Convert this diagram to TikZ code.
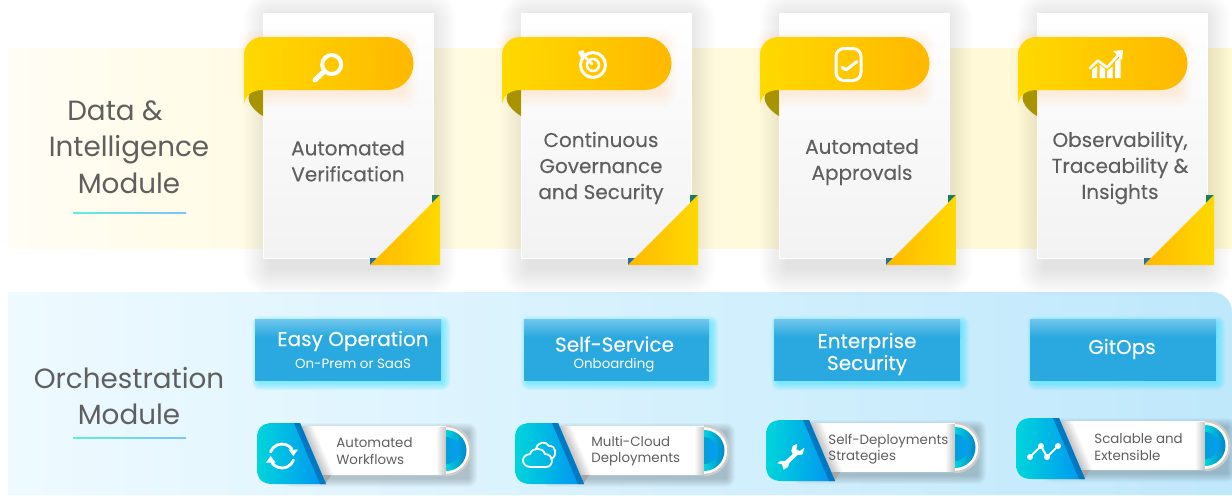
\documentclass[tikz,border=0pt]{standalone}
\usepackage{fontspec}
\setmainfont{Poppins}
\newdimen\px \px=0.5pt
\definecolor{txt}{HTML}{5F5F5F}
\definecolor{ylA}{HTML}{FFD900}
\definecolor{ylB}{HTML}{FFC800}
\definecolor{ylC}{HTML}{FFB800}
\definecolor{olive}{HTML}{A89400}
\definecolor{tealc}{HTML}{1E7A62}
\definecolor{bluec}{HTML}{2A6F9A}
\definecolor{boxb}{HTML}{29A9E0}
\definecolor{boxl}{HTML}{70C6EC}
\definecolor{glow}{HTML}{38E4FF}
\definecolor{icA}{HTML}{00D5DB}
\definecolor{icB}{HTML}{0093F2}
\definecolor{icD}{HTML}{0078C2}
\definecolor{capA}{HTML}{00A0D8}
\definecolor{capB}{HTML}{0A9CF8}
\definecolor{capC}{HTML}{0086D0}
\definecolor{panelA}{HTML}{EEFAFF}
\definecolor{panelB}{HTML}{DDF3FD}
\definecolor{panelC}{HTML}{BFE8FB}
\definecolor{lineA}{HTML}{5FF0D8}
\definecolor{lineB}{HTML}{7FC0FF}
\tikzset{
  sidelabel/.style={text=txt,align=center,inner sep=0pt,font=\fontsize{13.9}{18.2}\selectfont},
  cardlabel/.style={text=txt,align=center,inner sep=0pt,font=\fontsize{10}{13}\selectfont\addfontfeature{FakeBold=0.2}},
  boxlabel/.style={text=white,align=center,inner sep=0pt,font=\fontsize{10}{11}\selectfont\addfontfeature{FakeBold=0.15}},
  boxsub/.style={text=white,align=center,inner sep=0pt,font=\fontsize{6.7}{9}\selectfont},
  pilllabel/.style={text=txt,align=left,anchor=west,inner sep=0pt,font=\fontsize{6.7}{8.1}\selectfont},
  icon/.style={draw=white,line cap=round,line join=round},
}
\newcommand\softbox[7]{%
  \foreach \i in {1,...,#5}{\fill[#6,opacity=#7,rounded corners=\i\px] ({#1-\i},{#2-\i}) rectangle ({#3+\i},{#4+\i});}}
\newcommand\card[2]{% name, x
  \softbox{#2+8}{19}{#2+166}{268}{28}{black}{0.0042}
  \shade[top color=white,bottom color=black!5] (#2,13) rectangle (#2+170,258);
  \draw[white,line width=1\px] (#2,13) rectangle (#2+170,258);
  \coordinate (#1) at (#2,13);
  \fill[tealc] (#2+169,195) -- (#2+177,195) -- (#2+169,203) -- cycle;
  \fill[bluec] (#2+107,258) -- (#2+114,258) -- (#2+107,265) -- cycle;
  \shade[left color=ylC,right color=ylA] (#2+107,265) -- (#2+177,195) -- (#2+177,265) -- cycle;
  \softbox{#2-10}{45}{#2+140}{92}{16}{ylC}{0.009}
  \fill[olive] (#2,90) -- (#2-8,90) .. controls (#2-20,94) and (#2-14,108) .. (#2,116) -- cycle;
  \shade[left color=ylA,middle color=ylB,right color=ylC]
    (#2-19,55) arc[start angle=180,end angle=270,radius=18] -- (#2+124,37)
    arc[start angle=-90,end angle=90,radius=26.5] -- (#2,90)
    .. controls (#2-10,90) and (#2-17,94) .. (#2-19,104) -- cycle;
}
\newcommand\bluebox[3]{% name, x1, x2
  \softbox{#2+5}{319+5}{#3+1}{381+1}{8}{glow}{0.09}
  \fill[boxb] (#2,319) rectangle (#3,381);
  \shade[top color=boxl,bottom color=boxb] (#2,319) rectangle (#3,337);
  \coordinate (#1) at ({(#2+#3)/2},350);
}
\newcommand\pill[3]{% name, x, y
  \softbox{#2+35}{#3+9}{#2+211}{#3+55}{9}{black}{0.022}
  \fill[white] (#2+30,#3+3) -- (#2+189,#3+3) arc[start angle=-90,end angle=90,radius=24.5] -- (#2+30,#3+52) -- cycle;
  \foreach \i in {1,...,12}{\fill[black,opacity=0.02] (#2+44,#3+3) -- (#2+44+\i,#3+3) -- (#2+65+\i,#3+52) -- (#2+65,#3+52) -- cycle;}
  \foreach \i in {1,...,9}{\fill[black,opacity=0.022] (#2+189-\i,#3+3.5) rectangle (#2+189,#3+51.5);}
  \fill[black!35] (#2+62,#3+52) -- (#2+74,#3+52) -- (#2+69,#3+60) -- cycle;
  \draw[black!20,line width=2.4\px] (#2+189,#3+3) arc[start angle=-90,end angle=90,radius=24.5];
  \shade[left color=icA,right color=capC] (#2+189,#3+7) arc[start angle=-90,end angle=90,radius=20.5] -- cycle;
  \shade[left color=capA,right color=capB] (#2+189,#3+14) arc[start angle=-90,end angle=90,radius=13.5] -- cycle;
  \shade[left color=icA,right color=icB]
    (#2+16,#3) -- (#2+43,#3) -- (#2+69,#3+61) -- (#2+16,#3+61)
    .. controls (#2+5,#3+61) and (#2,#3+56) .. (#2,#3+45) -- (#2,#3+16)
    .. controls (#2,#3+5) and (#2+5,#3) .. (#2+16,#3) -- cycle;
  \fill[icD] (#2+37,#3) -- (#2+43,#3) -- (#2+69,#3+61) -- (#2+63,#3+61) -- cycle;
  \coordinate (#1) at (#2,#3);
}
\begin{document}
\begin{tikzpicture}[x=0.5pt,y=-0.5pt]
\useasboundingbox (0,0) rectangle (1232,495);
\fill[white] (0,0) rectangle (1232,495);
% panels
\shade[left color=ylA!4,right color=ylA!10] (8,48) rectangle (240,248);
\shade[left color=ylA!10,right color=ylA!17] (240,48) rectangle (1232,248);
\shade[left color=panelA,middle color=panelB,right color=panelC]
  (8,292) -- (1212,292) arc[start angle=-90,end angle=0,radius=20] -- (1232,495) -- (8,495) -- cycle;
% side labels
\node[sidelabel] (dataLabel) at (129,147) {Data \&\hspace*{28\px}\\Intelligence\\Module};
\shade[left color=lineA,right color=lineB] (73,212) rectangle (186,213);
\node[sidelabel] (orchLabel) at (129,396) {Orchestration\\Module};
\shade[left color=lineA,right color=lineB] (73,437.5) rectangle (186,438.5);
% cards
\card{c1}{263}
\card{c2}{521}
\card{c3}{779}
\card{c4}{1037}
\node[cardlabel] (c1t) at (348,161) {Automated\\Verification};
\node[cardlabel] (c2t) at (601,168) {Continuous\\Governance\\and Security};
\node[cardlabel] (c3t) at (862,162) {Automated\\Approvals};
\node[cardlabel] (c4t) at (1120,168) {Observability,\\Traceability \&\\Insights};
% card icons
\draw[icon,line width=4\px] (331.7,64.5) circle (9.5);
\draw[icon,line width=5\px] (315,80) -- (323,72.5);
\draw[icon,line width=3\px] (593,65) circle (12.5);
\draw[icon,line width=2.5\px] (593,65) circle (6);
\draw[icon,line width=2.5\px] (581,53) -- (592,64);
\fill[white] (578,52) -- (583,50) -- (586,56) -- (581,58) -- cycle;
\draw[icon,line width=3\px,rounded corners=8\px] (836,48.5) rectangle (861,80.5);
\draw[icon,line width=3\px] (842,67) -- (846,70) -- (857,61.5);
\fill[white] (1092,70) -- (1097,66) -- (1097,78) -- (1092,78) -- cycle;
\fill[white] (1099.5,64.5) -- (1105,69) -- (1105,78) -- (1099.5,78) -- cycle;
\fill[white] (1107,71) -- (1112.5,66.5) -- (1112.5,78) -- (1107,78) -- cycle;
\fill[white] (1115,62) -- (1120.5,57) -- (1120.5,78) -- (1115,78) -- cycle;
\draw[icon,line width=2.5\px] (1090,68) -- (1098,60.5) -- (1107,67.5) -- (1120,53);
\fill[white] (1123,50) -- (1113,51) -- (1122,60) -- cycle;
% blue boxes
\bluebox{b1}{255}{441}
\bluebox{b2}{524}{709}
\bluebox{b3}{774}{960}
\bluebox{b4}{1030}{1216}
\node[boxlabel] (b1t) at (353,341) {Easy Operation};
\node[boxsub] (b1s) at (353,363.5) {On-Prem or SaaS};
\node[boxlabel] (b2t) at (614.5,344) {Self-Service};
\node[boxsub] (b2s) at (614,365.5) {Onboarding};
\node[boxlabel] (b3t) at (867,354) {Enterprise\\Security};
\node[boxlabel] (b4t) at (1122,349) {GitOps};
% pills
\pill{p1}{257}{423}
\pill{p2}{515}{423}
\pill{p3}{766}{420}
\pill{p4}{1016}{418}
\node[pilllabel] (p1t) at (336,451) {Automated\\Workflows};
\node[pilllabel] (p2t) at (591,451) {Multi-Cloud\\Deployments};
\node[pilllabel] (p3t) at (828,449) {Self-Deployments\\Strategies};
\node[pilllabel] (p4t) at (1094,447) {Scalable and\\Extensible};
% refresh icon
\draw[icon,line width=2.8\px] (270.5,452) arc[start angle=200,end angle=325,radius=12.2];
\draw[icon,line width=2.8\px] (293.5,460) arc[start angle=20,end angle=145,radius=12.2];
\fill[white] (288.5,449.5) -- (298,449.5) -- (293.3,456) -- cycle;
\fill[white] (266,462.5) -- (275.5,462.5) -- (270.7,456) -- cycle;
% cloud icon
\draw[icon,line width=1.8\px] (531,467) .. controls (521,467) and (520,455) .. (530,454)
  .. controls (532,447) and (543,447) .. (545,454) .. controls (554,454) and (554,467) .. (546,467) -- cycle;
\draw[icon,line width=1.8\px] (536,449) .. controls (538,441) and (546,441) .. (549,446)
  .. controls (556,445) and (558,456) .. (551,459);
% wrench icon
\fill[white,rounded corners=0.5\px] (797.3,443.7) -- (792.7,446) -- (791.3,450.7) -- (792.7,454)
  -- (784.7,461.3) -- (780.7,460.7) -- (777.3,463.3) -- (782,464.2) -- (783,467.5) -- (783.5,469.8)
  -- (788,467) -- (789.5,462.5) -- (797.5,455) -- (802.5,454.5) -- (804.5,447.5) -- (800,451)
  -- (796.3,449.5) -- cycle;
% line chart icon
\draw[icon,line width=2\px] (1030,457) -- (1041,446) -- (1047,457) -- (1058,446);
\foreach \qx/\qy in {1030/457,1041/446,1047/457,1058/446}{\fill[white] (\qx,\qy) circle (3);}
\end{tikzpicture}
\end{document}
